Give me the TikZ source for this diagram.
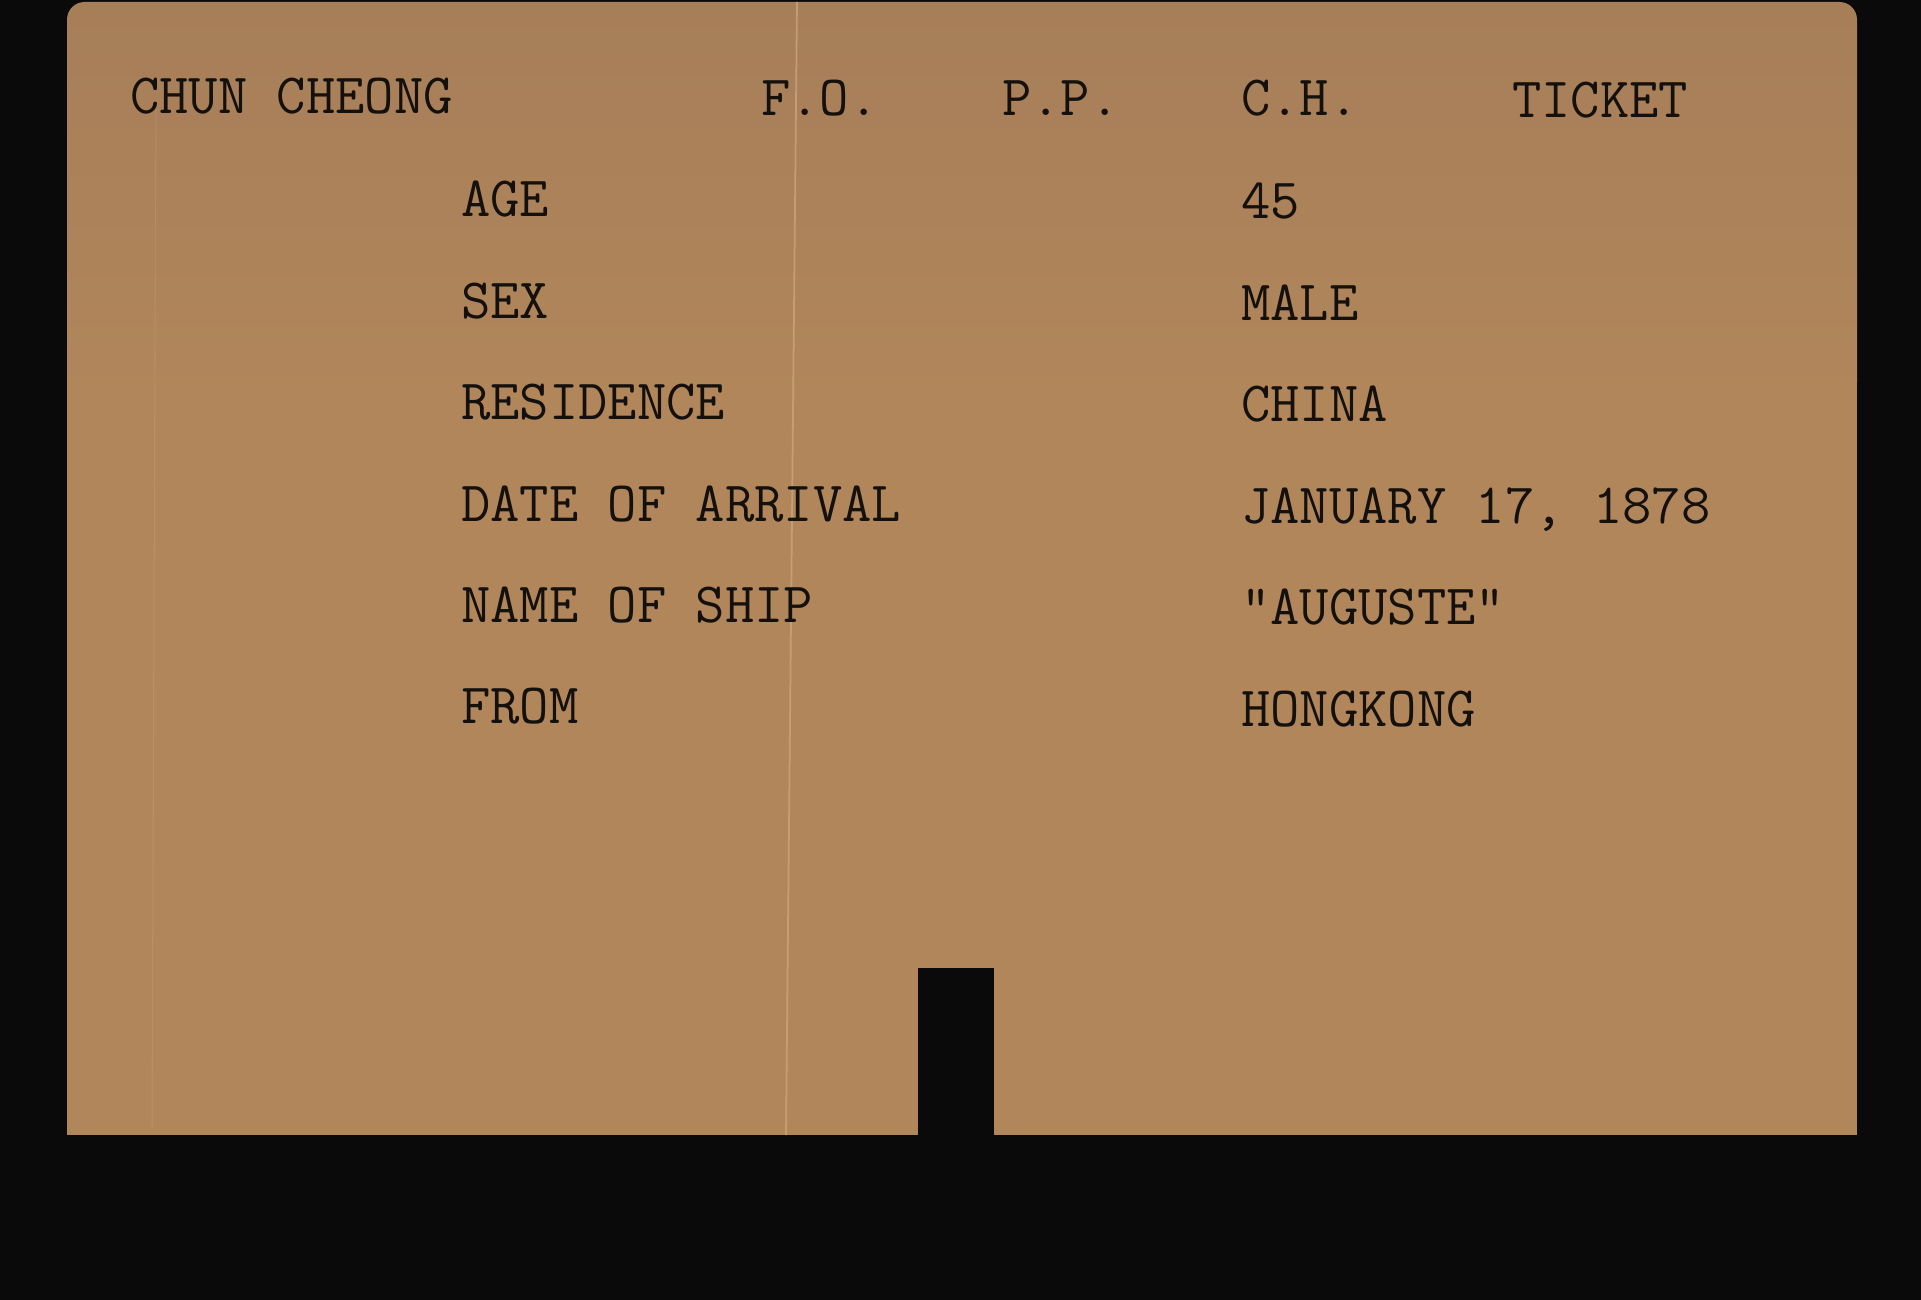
\documentclass[tikz,border=0pt]{standalone}
\usepackage{fontspec}
\definecolor{scanblack}{RGB}{10,10,10}
\definecolor{cardtan}{RGB}{177,134,91}
\definecolor{cardtop}{RGB}{166,126,88}
\definecolor{creaselight}{RGB}{204,164,124}
\definecolor{inkblack}{RGB}{20,16,12}
\tikzset{typed/.style={anchor=base west, inner sep=0pt, text=inkblack, font=\ttfamily\fontsize{32.4}{38}\selectfont}}
\begin{document}
\begin{tikzpicture}[x=0.02cm,y=-0.02cm]
\useasboundingbox (0,0) rectangle (1921,1300);
\pgfmathsetmacro\rowstep{101.4}
\fill[color = scanblack] (0,0) rectangle (1921,1300);
% the card, with its notch at the bottom
\fill[color = cardtan] (67,100) rectangle (1857,1135);
\shade[top color = cardtop, bottom color = cardtan, rounded corners = 10pt] (67,2) rectangle (1857,400);
\fill[color = scanblack] (918,968) rectangle (994,1140);
\draw[color = creaselight, opacity = 0.8, line width = 1pt] (797,2) -- (786,1135);
\draw[color = creaselight, opacity = 0.3, line width = 0.6pt] (156,100) -- (152,1130);
% header line
\node[typed] (name) at (130,114) {CHUN CHEONG};
\node[typed] (fo) at (761,116) {F.O.};
\node[typed] (pp) at (1002,116) {P.P.};
\node[typed] (ch) at (1241,116) {C.H.};
\node[typed] (ticket) at (1512,118) {TICKET};
% entries
\foreach \lab/\val [count=\i] in {AGE/45, SEX/MALE, RESIDENCE/CHINA, DATE OF ARRIVAL/{JANUARY 17, 1878}, NAME OF SHIP/"AUGUSTE", FROM/HONGKONG} {
  \pgfmathsetmacro\rowy{217+(\i-1)*\rowstep}
  \node[typed] (lab\i) at (461,\rowy) {\lab};
  \node[typed] (val\i) at (1241,\rowy+2) {\val};
}
\end{tikzpicture}
\end{document}
